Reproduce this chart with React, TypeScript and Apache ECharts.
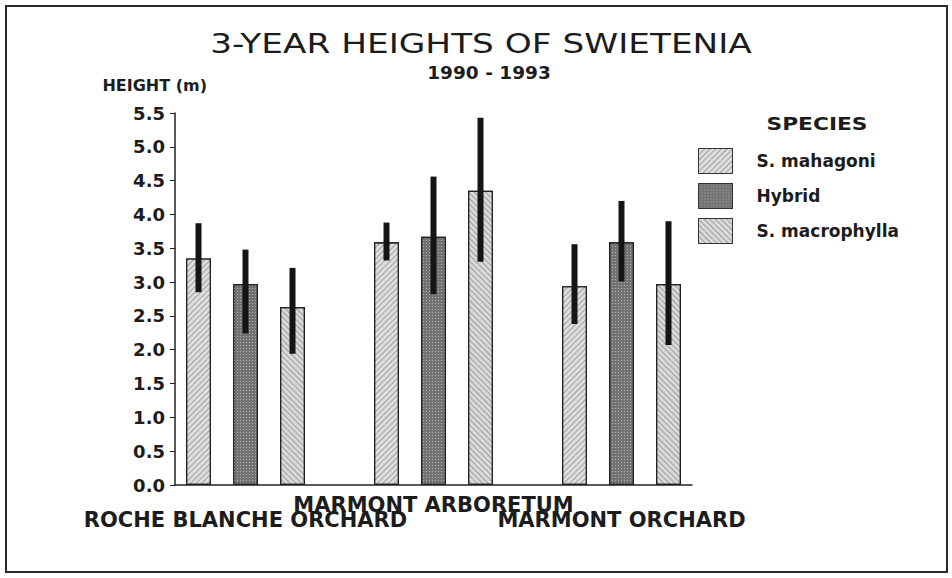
import React, { useEffect, useRef } from "react";
import * as echarts from "echarts";

// ---- data ----
const sites = ["ROCHE BLANCHE ORCHARD", "MARMONT ARBORETUM", "MARMONT ORCHARD"];
const species = ["S. mahagoni", "Hybrid", "S. macrophylla"];
const mahagoniMean = [3.35, 3.59, 2.94];
const hybridMean = [2.97, 3.67, 3.59];
const macrophyllaMean = [2.63, 4.35, 2.97];
const mahagoniLow = [2.85, 3.32, 2.38];
const mahagoniHigh = [3.87, 3.88, 3.56];
const hybridLow = [2.24, 2.82, 3.01];
const hybridHigh = [3.48, 4.56, 4.2];
const macrophyllaLow = [1.94, 3.3, 2.07];
const macrophyllaHigh = [3.21, 5.43, 3.9];
const yMin = 0;
const yMax = 5.5;
const yStep = 0.5;

const FONT = "DejaVu Sans";
const INK = "#1c1c1c";

export default function App() {
  const ref = useRef<HTMLDivElement>(null);
  useEffect(() => {
    if (!ref.current) return;
    const chart = echarts.init(ref.current, null, { renderer: "svg" });

    const means = [mahagoniMean, hybridMean, macrophyllaMean];
    const lows = [mahagoniLow, hybridLow, macrophyllaLow];
    const highs = [mahagoniHigh, hybridHigh, macrophyllaHigh];
    const nSlots = sites.length * (species.length + 1) - 1;
    const slotKeys: string[] = [];
    const slotLabels: string[] = [];
    for (let i = 0; i < nSlots; i++) {
      slotKeys.push("slot" + i);
      const site = Math.floor(i / (species.length + 1));
      const pos = i % (species.length + 1);
      if (pos === 1) {
        slotLabels.push(site % 2 === 0 ? "\n" + sites[site] : sites[site]);
      } else slotLabels.push("");
    }
    const slotOf = (site: number, sp: number) => site * (species.length + 1) + sp;

    const fills = ["#dedede", "#727272", "#d9d9d9"];
    const decals = [
      {
        symbol: "rect",
        symbolSize: 1,
        dashArrayX: [1, 0],
        dashArrayY: [1, 3],
        rotation: -Math.PI / 4,
        color: "rgba(0,0,0,0.28)",
      },
      {
        symbol: "rect",
        symbolSize: 1,
        dashArrayX: [1, 2],
        dashArrayY: [1, 2],
        rotation: 0,
        color: "rgba(255,255,255,0.45)",
      },
      {
        symbol: "rect",
        symbolSize: 1,
        dashArrayX: [1, 0],
        dashArrayY: [1, 3],
        rotation: Math.PI / 4,
        color: "rgba(0,0,0,0.28)",
      },
    ];

    const barSeries = species.map((name, sp) => {
      const data: any[] = new Array(nSlots).fill("-");
      sites.forEach((_, s) => {
        data[slotOf(s, sp)] = means[sp][s];
      });
      return {
        name,
        type: "bar",
        data,
        barWidth: 25,
        barGap: "-100%",
        itemStyle: {
          color: fills[sp],
          borderColor: "#222",
          borderWidth: 1.2,
          decal: decals[sp],
        },
      };
    });

    const errData: any[] = [];
    species.forEach((_, sp) => {
      sites.forEach((_, s) => {
        errData.push([slotOf(s, sp), lows[sp][s], highs[sp][s]]);
      });
    });

    const option: any = {
      animation: false,
      backgroundColor: "#ffffff",
      textStyle: { fontFamily: FONT, color: INK },
      grid: { left: 175, right: 260, top: 113, bottom: 93, containLabel: false },
      legend: {
        orient: "vertical",
        left: 698,
        top: 148,
        itemWidth: 34,
        itemHeight: 25,
        itemGap: 9,
        icon: "rect",
        padding: 0,
        data: species,
        itemStyle: { borderColor: "#333", borderWidth: 1 },
        textStyle: {
          fontFamily: FONT,
          fontWeight: "bold",
          fontSize: 17,
          color: INK,
          padding: [0, 0, 0, 19],
        },
      },
      xAxis: [
        {
          type: "category",
          data: slotKeys,
          axisLine: { lineStyle: { color: "#222", width: 1.5 } },
          axisTick: {
            alignWithLabel: true,
            interval: (i: number) => i % 2 === 0,
            length: 12,
            lineStyle: { color: "#222", width: 1.2 },
          },
          axisLabel: {
            interval: 0,
            margin: 12,
            fontFamily: FONT,
            fontWeight: "bold",
            fontSize: 21,
            lineHeight: 15,
            color: INK,
            formatter: (_v: string, idx: number) => slotLabels[idx],
          },
        },
        {
          type: "category",
          data: slotKeys,
          position: "bottom",
          axisLine: { show: false },
          axisLabel: { show: false },
          axisTick: {
            alignWithLabel: true,
            interval: (i: number) => i % 2 === 1,
            length: 6,
            lineStyle: { color: "#222", width: 1.2 },
          },
        },
      ],
      yAxis: {
        type: "value",
        min: yMin,
        max: yMax,
        interval: yStep,
        splitLine: { show: false },
        axisLine: { show: true, lineStyle: { color: "#222", width: 1.5 } },
        axisTick: { show: true, length: 5, lineStyle: { color: "#222" } },
        axisLabel: {
          margin: 10,
          fontFamily: FONT,
          fontWeight: "bold",
          fontSize: 18,
          color: INK,
          formatter: (v: number) => v.toFixed(1),
        },
      },
      series: [
        ...barSeries,
        {
          type: "custom",
          name: "range",
          data: errData,
          encode: { x: 0, y: [1, 2] },
          z: 5,
          renderItem: (_params: any, api: any) => {
            const x = api.value(0);
            const top = api.coord([x, api.value(2)]);
            const bot = api.coord([x, api.value(1)]);
            return {
              type: "rect",
              shape: { x: top[0] - 3, y: top[1], width: 6, height: bot[1] - top[1] },
              style: { fill: "#151515" },
            };
          },
        },
      ],
      graphic: [
        {
          type: "rect",
          shape: { x: 6, y: 6, width: 941, height: 566 },
          style: { fill: "none", stroke: "#2a2a2a", lineWidth: 2 },
          silent: true,
        },
        {
          type: "text",
          x: 481,
          y: 44,
          scaleX: 1.32,
          style: {
            text: "3-YEAR HEIGHTS OF SWIETENIA",
            fontFamily: FONT,
            fontSize: 26,
            fontWeight: "normal",
            fill: INK,
            textAlign: "center",
            textVerticalAlign: "middle",
          },
        },
        {
          type: "text",
          x: 489,
          y: 73,
          scaleX: 1.09,
          style: {
            text: "1990 - 1993",
            fontFamily: FONT,
            fontSize: 17,
            fontWeight: "bold",
            fill: INK,
            textAlign: "center",
            textVerticalAlign: "middle",
          },
        },
        {
          type: "text",
          x: 207,
          y: 85,
          style: {
            text: "HEIGHT (m)",
            fontFamily: FONT,
            fontSize: 16,
            fontWeight: "bold",
            fill: INK,
            textAlign: "right",
            textVerticalAlign: "middle",
          },
        },
        {
          type: "text",
          x: 817,
          y: 124,
          scaleX: 1.28,
          style: {
            text: "SPECIES",
            fontFamily: FONT,
            fontSize: 17,
            fontWeight: "bold",
            fill: INK,
            textAlign: "center",
            textVerticalAlign: "middle",
          },
        },
      ],
    };
    chart.setOption(option);
    return () => chart.dispose();
  }, []);
  return (
    <div
      ref={ref}
      style={{ position: "fixed", left: 0, top: 0, width: 952, height: 578 }}
    />
  );
}
